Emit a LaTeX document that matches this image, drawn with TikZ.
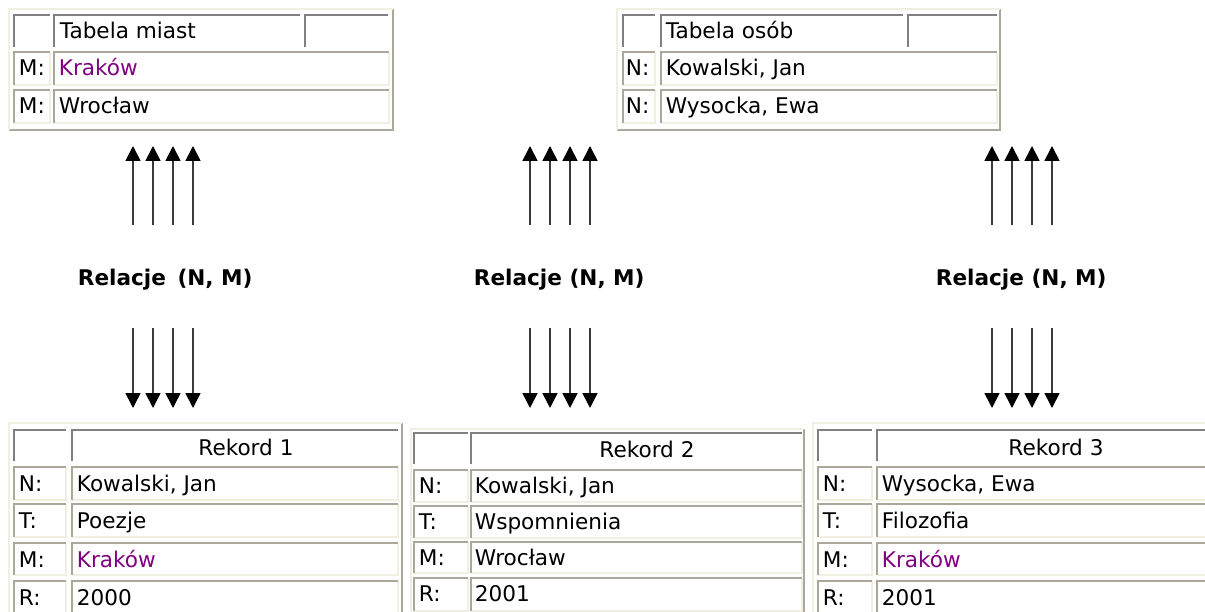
\documentclass[tikz,border=0pt]{standalone}
\usepackage{fontspec}
\setmainfont{DejaVu Sans}
\usetikzlibrary{arrows.meta}

\definecolor{hdrline}{HTML}{808080}
\definecolor{cellshade}{HTML}{ACA899}
\definecolor{cellhi}{HTML}{F1EFE2}
\definecolor{visited}{HTML}{800080}
\definecolor{shaft}{HTML}{3A3A3A}

% inset frame: #1 x1, #2 y1, #3 x2, #4 y2, #5 top/left colour, #6 bottom/right colour
\newcommand\cellframe[6]{%
  \draw[#6] (#1,#4) -- (#3,#4) -- (#3,#2);
  \draw[#5] (#1,#4) -- (#1,#2) -- (#3,#2);
}
% outset frame of a whole table
\newcommand\tableframe[4]{%
  \draw[cellshade] (#1,#4) -- (#3,#4) -- (#3,#2);
  \draw[cellhi] (#1,#4) -- (#1,#2) -- (#3,#2);
}

\tikzset{
  txt/.style={anchor=base west, inner sep=0pt, font=\fontsize{21.6}{26}\selectfont},
  ctr/.style={anchor=base, inner sep=0pt, font=\fontsize{21.6}{26}\selectfont},
  rel/.style={anchor=base west, inner sep=0pt, font=\fontsize{21.6}{26}\selectfont\bfseries},
  city/.style={text=visited},
  arr/.style={line width=1.7pt, shaft, -{Triangle[width=15pt,length=15pt,color=black]}},
}

\begin{document}
\begin{tikzpicture}[x=1pt,y=-1pt,line width=1.8pt]
\useasboundingbox (0,0) rectangle (1205,612);
\fill[white] (0,0) rectangle (1205,612);

% ---- Tabela miast ----
\tableframe{9}{9}{393}{130}
\cellframe{14}{15}{50}{47}{hdrline}{white}
\cellframe{54}{15}{300}{47}{hdrline}{white}
\cellframe{305}{15}{388}{47}{hdrline}{white}
\cellframe{14}{52}{50}{85}{cellshade}{cellhi}
\cellframe{54}{52}{389}{85}{cellshade}{cellhi}
\cellframe{14}{90}{50}{123}{cellshade}{cellhi}
\cellframe{54}{90}{389}{123}{cellshade}{cellhi}
\node[txt] (tm) at (59,39) {Tabela miast};
\node[txt] (tm1k) at (18,76) {M:};
\node[txt,city] (tm1v) at (58,76) {Kraków};
\node[txt] (tm2k) at (18,114) {M:};
\node[txt] (tm2v) at (58,114) {Wrocław};

% ---- Tabela osób ----
\tableframe{617}{9}{1000}{130}
\cellframe{623}{15}{655}{47}{hdrline}{white}
\cellframe{661}{15}{903}{47}{hdrline}{white}
\cellframe{908}{15}{997}{47}{hdrline}{white}
\cellframe{623}{52}{655}{85}{cellshade}{cellhi}
\cellframe{661}{52}{997}{85}{cellshade}{cellhi}
\cellframe{623}{90}{655}{123}{cellshade}{cellhi}
\cellframe{661}{90}{997}{123}{cellshade}{cellhi}
\node[txt] (to) at (665,39) {Tabela osób};
\node[txt] (to1k) at (625,76) {N:};
\node[txt] (to1v) at (665,76) {Kowalski, Jan};
\node[txt] (to2k) at (625,114) {N:};
\node[txt] (to2v) at (665,114) {Wysocka, Ewa};

% ---- Rekord 1 ----
\tableframe{9}{423}{402}{625}
\cellframe{14}{430}{66}{461}{hdrline}{white}
\cellframe{72}{430}{398}{461}{hdrline}{white}
\foreach \ya/\yb in {467/500,504/537,543/575,581/614}{
  \cellframe{14}{\ya}{66}{\yb}{cellshade}{cellhi}
  \cellframe{72}{\ya}{398}{\yb}{cellshade}{cellhi}
}
\node[ctr] (r1h) at (246,455) {Rekord 1};
\node[txt] (r1nk) at (18,491) {N:};
\node[txt] (r1nv) at (76,491) {Kowalski, Jan};
\node[txt] (r1tk) at (18,528) {T:};
\node[txt] (r1tv) at (76,528) {Poezje};
\node[txt] (r1mk) at (18,567) {M:};
\node[txt,city] (r1mv) at (76,567) {Kraków};
\node[txt] (r1rk) at (18,605) {R:};
\node[txt] (r1rv) at (76,605) {2000};

% ---- Rekord 2 ----
\tableframe{411}{429}{804}{625}
\cellframe{414}{433}{468}{464}{hdrline}{white}
\cellframe{471}{433}{802}{464}{hdrline}{white}
\foreach \ya/\yb in {470/502,506/538,542/573,578/611}{
  \cellframe{414}{\ya}{468}{\yb}{cellshade}{cellhi}
  \cellframe{471}{\ya}{802}{\yb}{cellshade}{cellhi}
}
\node[ctr] (r2h) at (647,457) {Rekord 2};
\node[txt] (r2nk) at (418,493) {N:};
\node[txt] (r2nv) at (474,493) {Kowalski, Jan};
\node[txt] (r2tk) at (418,529) {T:};
\node[txt] (r2tv) at (474,529) {Wspomnienia};
\node[txt] (r2mk) at (418,565) {M:};
\node[txt] (r2mv) at (474,565) {Wrocław};
\node[txt] (r2rk) at (418,601) {R:};
\node[txt] (r2rv) at (474,601) {2001};

% ---- Rekord 3 ----
\tableframe{813}{423}{1215}{625}
\cellframe{818}{430}{872}{461}{hdrline}{white}
\cellframe{877}{430}{1212}{461}{hdrline}{white}
\foreach \ya/\yb in {467/500,504/537,543/575,581/614}{
  \cellframe{818}{\ya}{872}{\yb}{cellshade}{cellhi}
  \cellframe{877}{\ya}{1212}{\yb}{cellshade}{cellhi}
}
\node[ctr] (r3h) at (1056,455) {Rekord 3};
\node[txt] (r3nk) at (822,491) {N:};
\node[txt] (r3nv) at (881,491) {Wysocka, Ewa};
\node[txt] (r3tk) at (822,528) {T:};
\node[txt] (r3tv) at (881,528) {Filozofia};
\node[txt] (r3mk) at (822,567) {M:};
\node[txt,city] (r3mv) at (881,567) {Kraków};
\node[txt] (r3rk) at (822,605) {R:};
\node[txt] (r3rv) at (881,605) {2001};

% ---- relation labels ----
\node[rel] (rel1) at (77,286) {Relacje\hspace{11.5pt}(N, M)};
\node[rel] (rel2) at (473,286) {Relacje (N, M)};
\node[rel] (rel3) at (935,286) {Relacje (N, M)};

% ---- arrow bundles ----
\foreach \g/\xs in {a/133, b/530, c/992}{
  \foreach \k in {0,1,2,3}{
    \coordinate (up\g\k s) at ({\xs+20*\k},225);
    \coordinate (up\g\k t) at ({\xs+20*\k},146);
    \coordinate (dn\g\k s) at ({\xs+20*\k},328);
    \coordinate (dn\g\k t) at ({\xs+20*\k},408);
    \draw[arr] (up\g\k s) -- (up\g\k t);
    \draw[arr] (dn\g\k s) -- (dn\g\k t);
  }
}
\end{tikzpicture}
\end{document}
